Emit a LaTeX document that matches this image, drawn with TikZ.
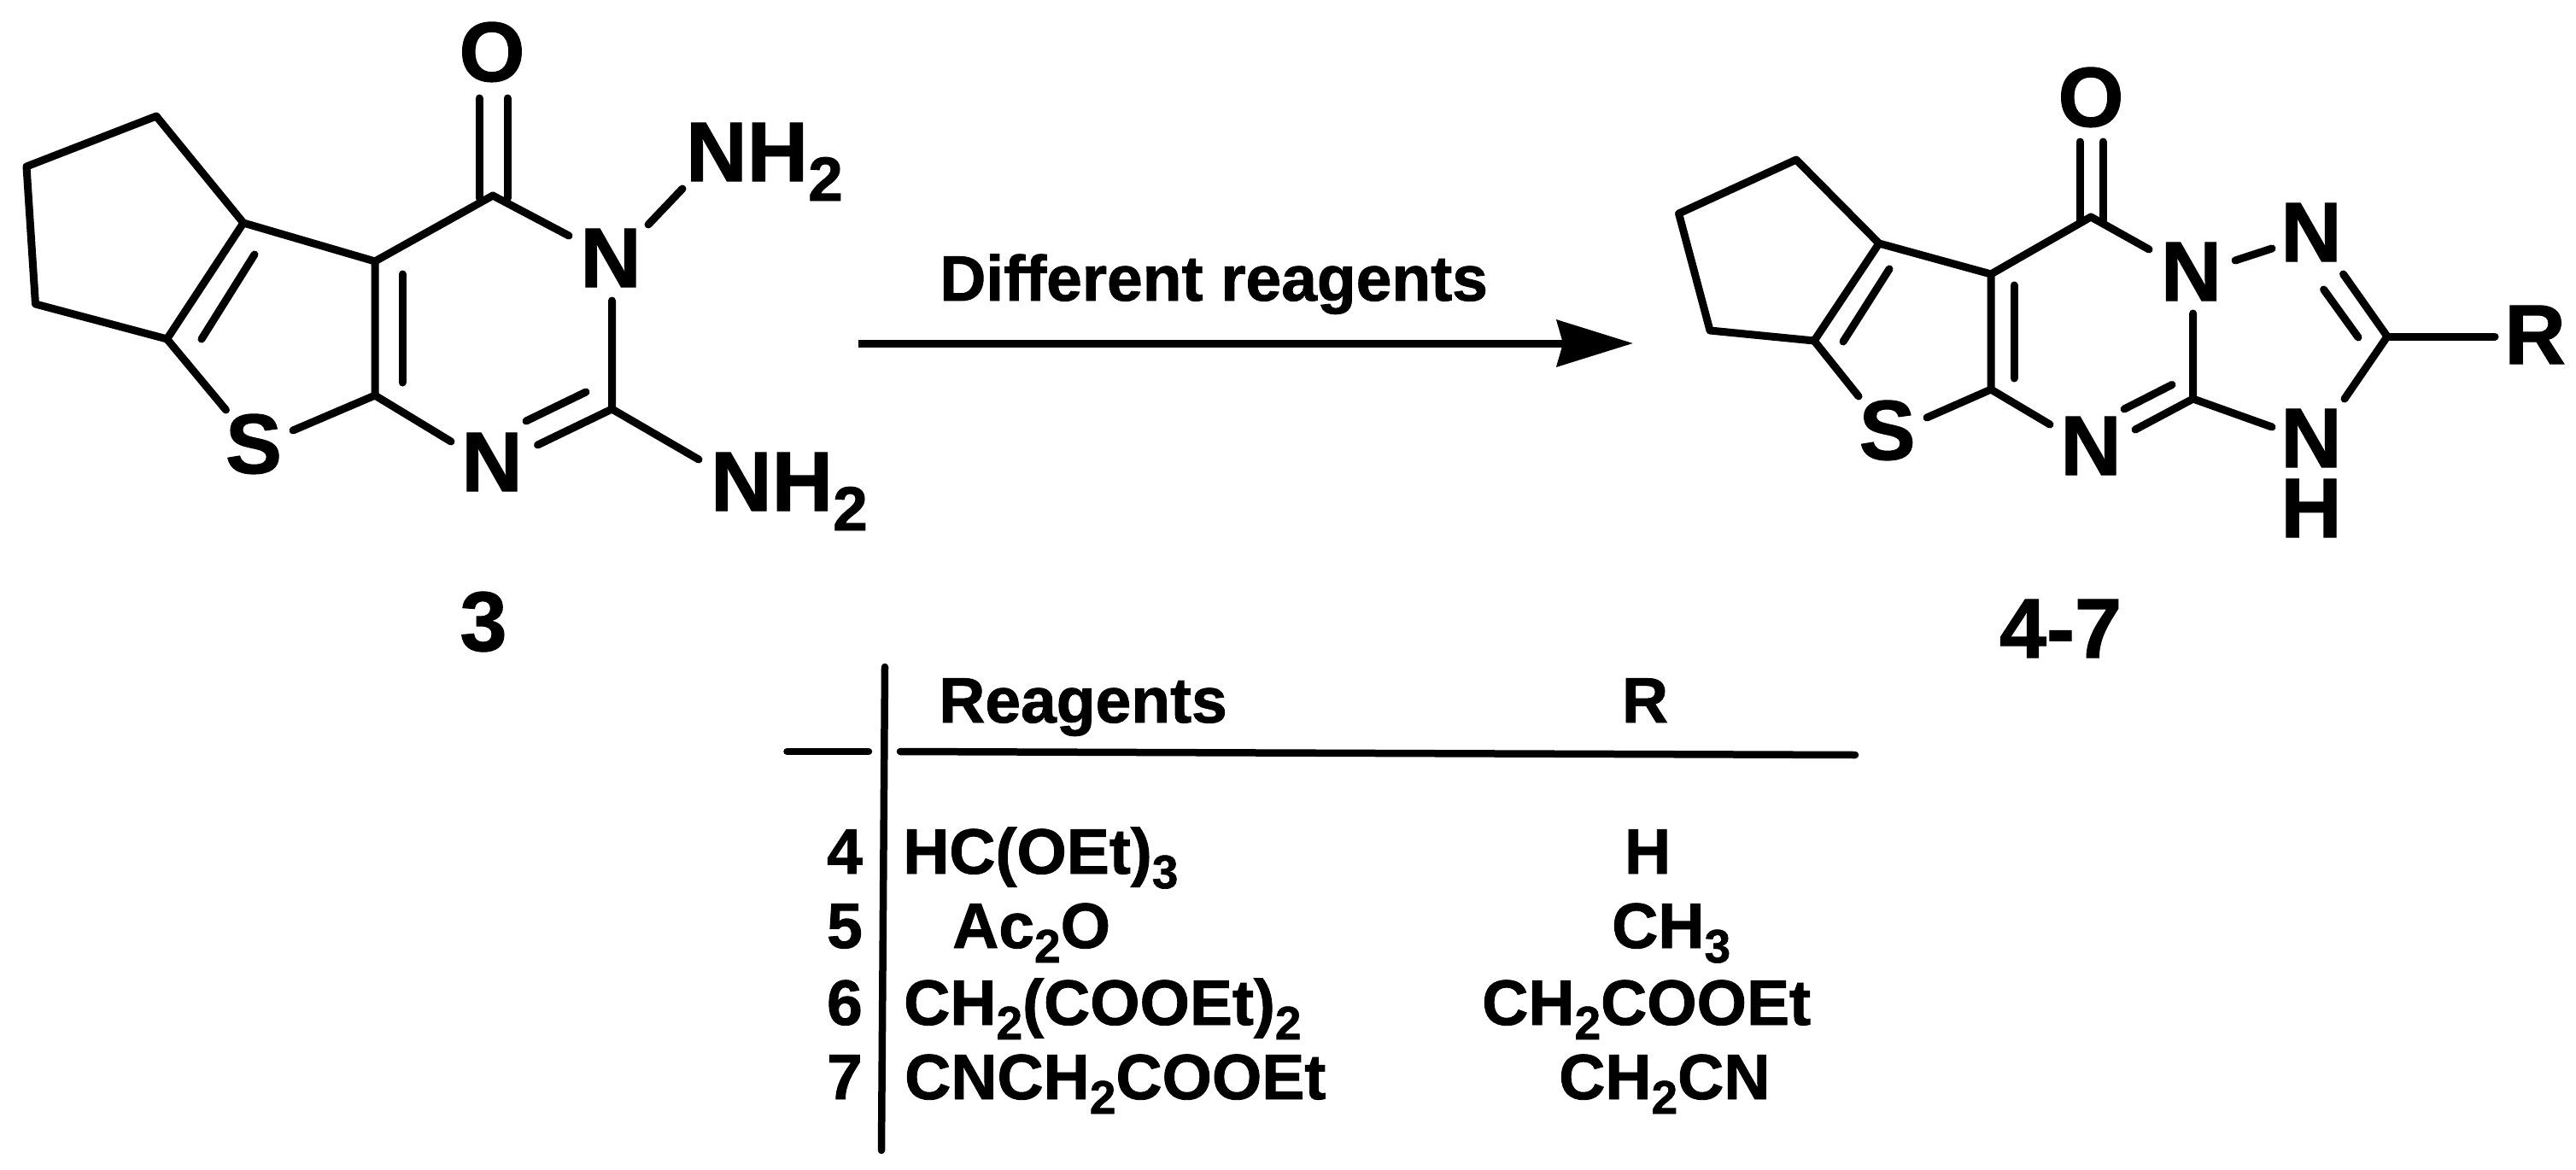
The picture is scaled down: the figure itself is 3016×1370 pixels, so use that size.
\documentclass[tikz,border=0pt]{standalone}
\usepackage{fontspec}
\setmainfont{Liberation Sans}[BoldFeatures={FakeBold=1.2}]
\usetikzlibrary{arrows.meta}
\newcommand{\subb}[1]{\raisebox{-23pt}{\fontsize{73}{73}\selectfont #1}}
\newcommand{\subt}[1]{\raisebox{-17pt}{\fontsize{55}{55}\selectfont #1}}
\tikzset{
  bond/.style={line width=9pt,line cap=round,line join=round,black},
  rule/.style={line width=8.5pt,line cap=round,black},
  atomlabel/.style={inner sep=0pt,anchor=base,font=\fontsize{99}{99}\selectfont\bfseries},
  atomwest/.style={inner sep=0pt,anchor=base west,font=\fontsize{99}{99}\selectfont\bfseries},
  tabc/.style={inner sep=0pt,anchor=base,font=\fontsize{75}{75}\selectfont\bfseries},
  tabw/.style={inner sep=0pt,anchor=base west,font=\fontsize{75}{75}\selectfont\bfseries},
  tabe/.style={inner sep=0pt,anchor=base east,font=\fontsize{75}{75}\selectfont\bfseries},
}
\begin{document}
\begin{tikzpicture}[x=1pt,y=-1pt]
\fill[white] (0,0) rectangle (3016,1370);
\useasboundingbox (0,0) rectangle (3016,1370);
% ---------- compound 3 ----------
\coordinate (a1) at (183,136);
\coordinate (a2) at (31,195);
\coordinate (a3) at (41.5,356);
\coordinate (a4) at (195.5,397);
\coordinate (a5) at (285,261);
\coordinate (a6) at (439,306);
\coordinate (a7) at (577,229);
\coordinate (a8) at (439,463);
\coordinate (a9) at (716.5,479);
\coordinate (aSa) at (264.5,480);
\coordinate (aSb) at (343,504);
\coordinate (aNa) at (528,517);
\coordinate (aNb) at (629.5,521);
\coordinate (aN3a) at (666,276);
\coordinate (aN3b) at (716.5,352);
\coordinate (aH1a) at (759,263);
\coordinate (aH1b) at (799,221);
\coordinate (aH2) at (818,538);
\coordinate (aOa) at (561,115);
\coordinate (aOb) at (561,232);
\coordinate (aOc) at (594,115);
\coordinate (aOd) at (594,232);
\coordinate (ai1) at (298,298);
\coordinate (ai2) at (236,397);
\coordinate (ai3) at (471,321);
\coordinate (ai4) at (471,448);
\coordinate (ai5) at (686,459);
\coordinate (ai6) at (616,493);
\draw[bond] (a5) -- (a1) -- (a2) -- (a3) -- (a4) -- (a5) -- (a6) -- (a7) -- (aN3a);
\draw[bond] (a6) -- (a8) -- (aSb);
\draw[bond] (a4) -- (aSa);
\draw[bond] (a8) -- (aNa);
\draw[bond] (aNb) -- (a9) -- (aN3b);
\draw[bond] (a9) -- (aH2);
\draw[bond] (aH1a) -- (aH1b);
\draw[bond] (aOa) -- (aOb);
\draw[bond] (aOc) -- (aOd);
\draw[bond] (ai1) -- (ai2);
\draw[bond] (ai3) -- (ai4);
\draw[bond] (ai5) -- (ai6);
\node[atomlabel] (aO) at (576,95) {O};
\node[atomlabel] (aN3) at (715,336) {N};
\node[atomlabel] (aN1) at (576,575) {N};
\node[atomlabel] (aS) at (297,554) {S};
\node[atomwest] (aNHa) at (803,212) {NH\subb{2}};
\node[atomwest] (aNHb) at (832,598) {NH\subb{2}};
\node[atomlabel] (aNum) at (566,762) {3};
% ---------- arrow ----------
\coordinate (arS) at (1005,402);
\coordinate (arE) at (1912,402);
\draw[line width=9pt,-{Stealth[length=89pt,width=54pt,inset=7pt]}] (arS) -- (arE);
\node[tabw] (arT) at (1100,352) {Different reagents};
% ---------- compounds 4-7 ----------
\coordinate (b1) at (2103,187);
\coordinate (b2) at (1965.5,250);
\coordinate (b3) at (2002,387);
\coordinate (b4) at (2124,399);
\coordinate (b5) at (2200,285);
\coordinate (b6) at (2331,321);
\coordinate (b7) at (2448,254);
\coordinate (b8) at (2331,456);
\coordinate (b9) at (2567.6,467);
\coordinate (b10) at (2795,394);
\coordinate (bSa) at (2176,464);
\coordinate (bSb) at (2256,489);
\coordinate (bNa) at (2400,497);
\coordinate (bNb) at (2500,503);
\coordinate (bN1a) at (2516,292);
\coordinate (bN1b) at (2567.6,367);
\coordinate (bNNa) at (2617,305);
\coordinate (bNNb) at (2660,291);
\coordinate (bN2) at (2743.5,321);
\coordinate (bNH) at (2745,467);
\coordinate (bNHb) at (2660,500);
\coordinate (bR) at (2921,394);
\coordinate (bOa) at (2435,166);
\coordinate (bOb) at (2435,258);
\coordinate (bOc) at (2462,166);
\coordinate (bOd) at (2462,258);
\coordinate (bi1) at (2212,315);
\coordinate (bi2) at (2158,400);
\coordinate (bi3) at (2358,334);
\coordinate (bi4) at (2358,443);
\coordinate (bi5) at (2543,450.5);
\coordinate (bi6) at (2487,479);
\coordinate (bi7) at (2720.6,339);
\coordinate (bi8) at (2761,395);
\draw[bond] (b5) -- (b1) -- (b2) -- (b3) -- (b4) -- (b5) -- (b6) -- (b7) -- (bN1a);
\draw[bond] (b6) -- (b8) -- (bSb);
\draw[bond] (b4) -- (bSa);
\draw[bond] (b8) -- (bNa);
\draw[bond] (bNb) -- (b9) -- (bN1b);
\draw[bond] (b9) -- (bNHb);
\draw[bond] (bNNa) -- (bNNb);
\draw[bond] (bN2) -- (b10) -- (bNH);
\draw[bond] (b10) -- (bR);
\draw[bond] (bOa) -- (bOb);
\draw[bond] (bOc) -- (bOd);
\draw[bond] (bi1) -- (bi2);
\draw[bond] (bi3) -- (bi4);
\draw[bond] (bi5) -- (bi6);
\draw[bond] (bi7) -- (bi8);
\node[atomlabel] (bO) at (2448,148) {O};
\node[atomlabel] (bN1) at (2565.5,352) {N};
\node[atomlabel] (bN2l) at (2706,306) {N};
\node[atomlabel] (bRl) at (2968,426) {R};
\node[atomlabel] (bN3) at (2448,556) {N};
\node[atomlabel] (bS) at (2209.6,538) {S};
\node[atomlabel] (bN4) at (2706,547) {N};
\node[atomlabel] (bH) at (2706,629) {H};
\node[atomlabel] (bNum) at (2412.5,770) {4-7};
% ---------- table ----------
\coordinate (v1) at (1036,781);
\coordinate (v2) at (1032,1347);
\coordinate (d1) at (921.5,880);
\coordinate (d2) at (1017,880);
\coordinate (h1) at (1054,880);
\coordinate (h2) at (2172,884);
\draw[rule] (v1) -- (v2);
\draw[rule] (d1) -- (d2);
\draw[rule] (h1) -- (h2);
\node[tabw] (tReag) at (1099,846) {Reagents};
\node[tabc] (tR) at (1926,846) {R};
\node[tabe] (n4) at (1010,1023) {4};
\node[tabe] (n5) at (1010,1110) {5};
\node[tabe] (n6) at (1010,1200) {6};
\node[tabe] (n7) at (1010,1287) {7};
\node[tabw] (r4) at (1057,1023) {HC(OEt)\subt{3}};
\node[tabw] (r5) at (1115,1110) {Ac\subt{2}O};
\node[tabw] (r6) at (1058,1200) {CH\subt{2}(COOEt)\subt{2}};
\node[tabw] (r7) at (1059,1287) {CNCH\subt{2}COOEt};
\node[tabc] (s4) at (1929,1023) {H};
\node[tabw] (s5) at (1887,1110) {CH\subt{3}};
\node[tabw] (s6) at (1735,1200) {CH\subt{2}COOEt};
\node[tabw] (s7) at (1825,1287) {CH\subt{2}CN};
\end{tikzpicture}
\end{document}
